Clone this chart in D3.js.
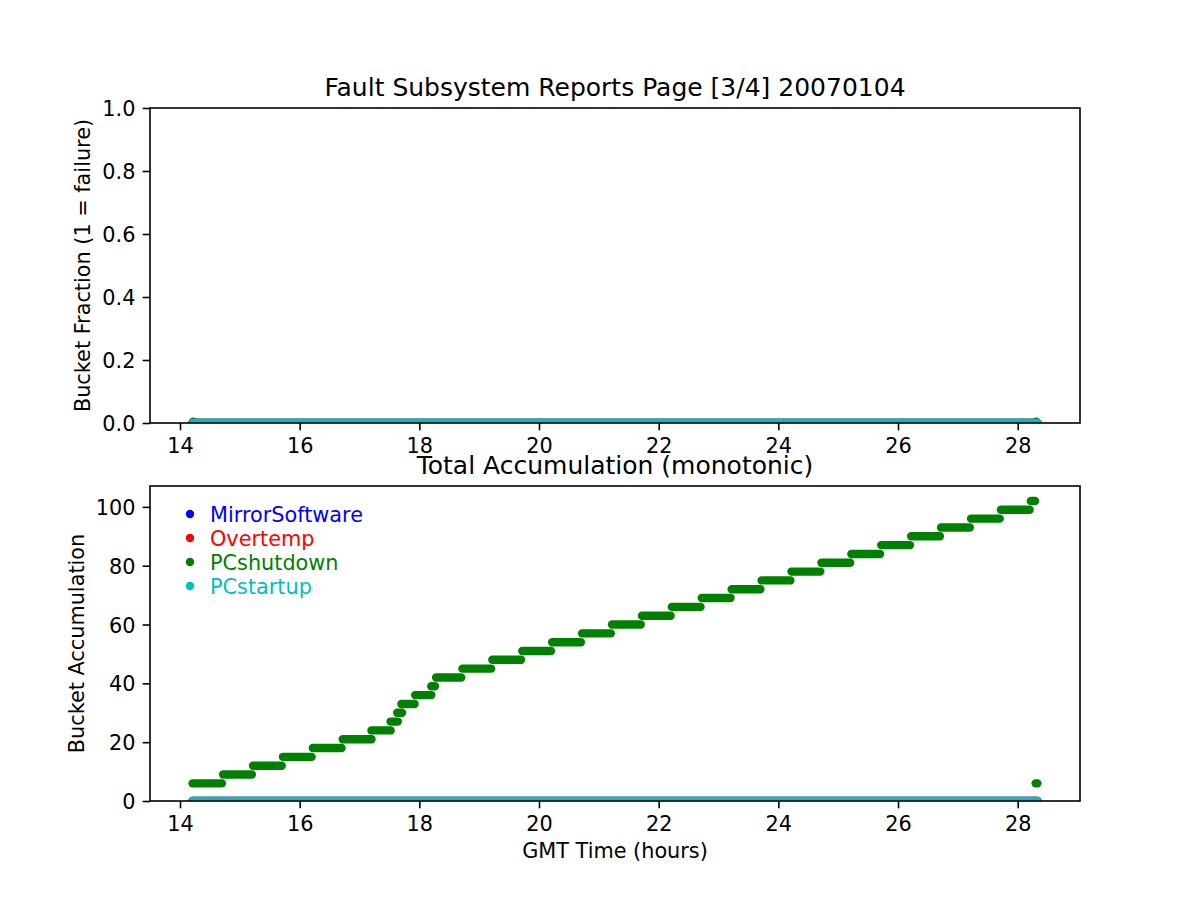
<!DOCTYPE html>
<html>
<head>
<meta charset="utf-8">
<script src="https://cdnjs.cloudflare.com/ajax/libs/d3/7.8.5/d3.min.js"></script>
<style>
  html, body { margin: 0; padding: 0; background: #fff; }
  svg { display: block; }
  text { font-family: "DejaVu Sans", sans-serif; fill: #000; }
</style>
</head>
<body>
<script>
// ---------------- data ----------------
const chartTitle = "Fault Subsystem Reports Page [3/4] 20070104";
const lowerTitle = "Total Accumulation (monotonic)";
const xLabel = "GMT Time (hours)";
const fracLabel = "Bucket Fraction (1 = failure)";
const accLabel = "Bucket Accumulation";

const seriesNames = ["MirrorSoftware", "Overtemp", "PCshutdown", "PCstartup"];
const seriesColors = ["#0000ff", "#ff0000", "#008000", "#00bfbf"];

const xTicks = [14, 16, 18, 20, 22, 24, 26, 28];
const fracTicks = [0.0, 0.2, 0.4, 0.6, 0.8, 1.0];
const accTicks = [0, 20, 40, 60, 80, 100];

// time span covered by the reports (hours)
const timeFirst = 14.205;
const timeLast = 28.335;

// zero-valued runs (start hour, end hour, value)
const zeroStart = [14.21];
const zeroEnd = [28.33];
const zeroValue = [0];

// PCshutdown fraction (upper panel): zero run plus two tiny blips
const shutFracStart = [14.21, 14.22, 28.31];
const shutFracEnd = [28.33, 14.22, 28.31];
const shutFracValue = [0, 0.004, 0.004];

// PCshutdown accumulation (lower panel), stepwise runs
const shutAccStart = [14.21, 14.72, 15.22, 15.72, 16.22, 16.72, 17.20, 17.52, 17.63, 17.70, 17.93, 18.20, 18.28,
  18.72, 19.22, 19.72, 20.22, 20.72, 21.22, 21.72, 22.22, 22.72, 23.22, 23.72, 24.22, 24.72, 25.22, 25.72, 26.22,
  26.72, 27.22, 27.72, 28.22, 28.30];
const shutAccEnd = [14.70, 15.20, 15.70, 16.20, 16.70, 17.20, 17.52, 17.64, 17.71, 17.92, 18.20, 18.26, 18.70,
  19.20, 19.70, 20.20, 20.70, 21.20, 21.70, 22.20, 22.70, 23.20, 23.70, 24.20, 24.70, 25.20, 25.70, 26.20, 26.70,
  27.20, 27.70, 28.20, 28.29, 28.33];
const shutAccValue = [6, 9, 12, 15, 18, 21, 24, 27, 30, 33, 36, 39, 42,
  45, 48, 51, 54, 57, 60, 63, 66, 69, 72, 75, 78, 81, 84, 87, 90,
  93, 96, 99, 102, 6];

// ---------------- layout ----------------
const W = 1200, H = 900;
const left = 150, right = 1080;
const topPanel = { top: 108, bottom: 423 };
const botPanel = { top: 486, bottom: 801 };
const FS = 20.8, TFS = 25;
const tickLen = 7.3, tickPad = 7.3;

const svg = d3.select("body").append("svg").attr("width", W).attr("height", H);

const span = timeLast - timeFirst;
const x = d3.scaleLinear().domain([timeFirst - 0.05 * span, timeLast + 0.05 * span]).range([left, right]);
const yFrac = d3.scaleLinear().domain([0, 1]).range([topPanel.bottom, topPanel.top]);
const accMax = d3.max(shutAccValue);
const yAcc = d3.scaleLinear().domain([0, accMax * 1.05]).range([botPanel.bottom, botPanel.top]);

function runs(starts, ends, values) {
  return starts.map((s, i) => ({ s, e: ends[i], v: values[i] }));
}

function panel(id, box, y, yTicks, yFmt, ylabel, ylabelX, title, seriesRuns) {
  const g = svg.append("g");
  const clipId = "clip-" + id;
  svg.append("defs").append("clipPath").attr("id", clipId)
    .append("rect").attr("x", left).attr("y", box.top)
    .attr("width", right - left).attr("height", box.bottom - box.top);

  const data = g.append("g").attr("clip-path", `url(#${clipId})`);
  seriesRuns.forEach((sr, i) => {
    data.selectAll(null).data(sr).enter().append("line")
      .attr("x1", d => x(d.s)).attr("x2", d => x(d.e))
      .attr("y1", d => y(d.v)).attr("y2", d => y(d.v))
      .attr("stroke", seriesColors[i])
      .attr("stroke-width", 8.4)
      .attr("stroke-linecap", "round");
  });

  // x axis
  const xa = g.append("g").attr("transform", `translate(0,${box.bottom})`)
    .call(d3.axisBottom(x).tickValues(xTicks).tickSize(tickLen).tickPadding(tickPad).tickFormat(d3.format("d")));
  xa.select(".domain").remove();
  xa.selectAll(".tick line").attr("stroke", "#000").attr("stroke-width", 1.6);
  xa.selectAll(".tick text").attr("font-size", FS).attr("dy", null).attr("y", 29.8)
    .style("font-family", "DejaVu Sans");

  // y axis
  const ya = g.append("g").attr("transform", `translate(${left},0)`)
    .call(d3.axisLeft(y).tickValues(yTicks).tickSize(tickLen).tickPadding(tickPad).tickFormat(yFmt));
  ya.select(".domain").remove();
  ya.selectAll(".tick line").attr("stroke", "#000").attr("stroke-width", 1.6);
  ya.selectAll(".tick text").attr("font-size", FS).attr("dy", null).attr("y", 7.6)
    .style("font-family", "DejaVu Sans");

  // frame
  g.append("rect").attr("x", left).attr("y", box.top)
    .attr("width", right - left).attr("height", box.bottom - box.top)
    .attr("fill", "none").attr("stroke", "#000").attr("stroke-width", 1.6);

  // y label
  const cy = (box.top + box.bottom) / 2;
  g.append("text").attr("transform", `translate(${ylabelX},${cy}) rotate(-90)`)
    .attr("text-anchor", "middle").attr("font-size", FS).text(ylabel);

  // title
  g.append("text").attr("x", (left + right) / 2).attr("y", box.top - 12.5)
    .attr("text-anchor", "middle").attr("font-size", TFS).text(title);
  return g;
}

const zeroRuns = runs(zeroStart, zeroEnd, zeroValue);

panel("top", topPanel, yFrac, fracTicks, d3.format(".1f"), fracLabel, 90, chartTitle, [
  zeroRuns, zeroRuns, runs(shutFracStart, shutFracEnd, shutFracValue), zeroRuns
]);

const gb = panel("bot", botPanel, yAcc, accTicks, d3.format("d"), accLabel, 83.5, lowerTitle, [
  zeroRuns, zeroRuns, runs(shutAccStart, shutAccEnd, shutAccValue), zeroRuns
]);

// x label
svg.append("text").attr("x", (left + right) / 2).attr("y", 857.5)
  .attr("text-anchor", "middle").attr("font-size", FS).text(xLabel);

// legend
const leg = svg.append("g");
seriesNames.forEach((n, i) => {
  const cy = 514 + i * 24;
  leg.append("circle").attr("cx", 190).attr("cy", cy).attr("r", 4.2).attr("fill", seriesColors[i]);
  leg.append("text").attr("x", 210).attr("y", cy + 7.6).attr("font-size", FS)
    .style("fill", seriesColors[i]).text(n);
});
</script>
</body>
</html>
